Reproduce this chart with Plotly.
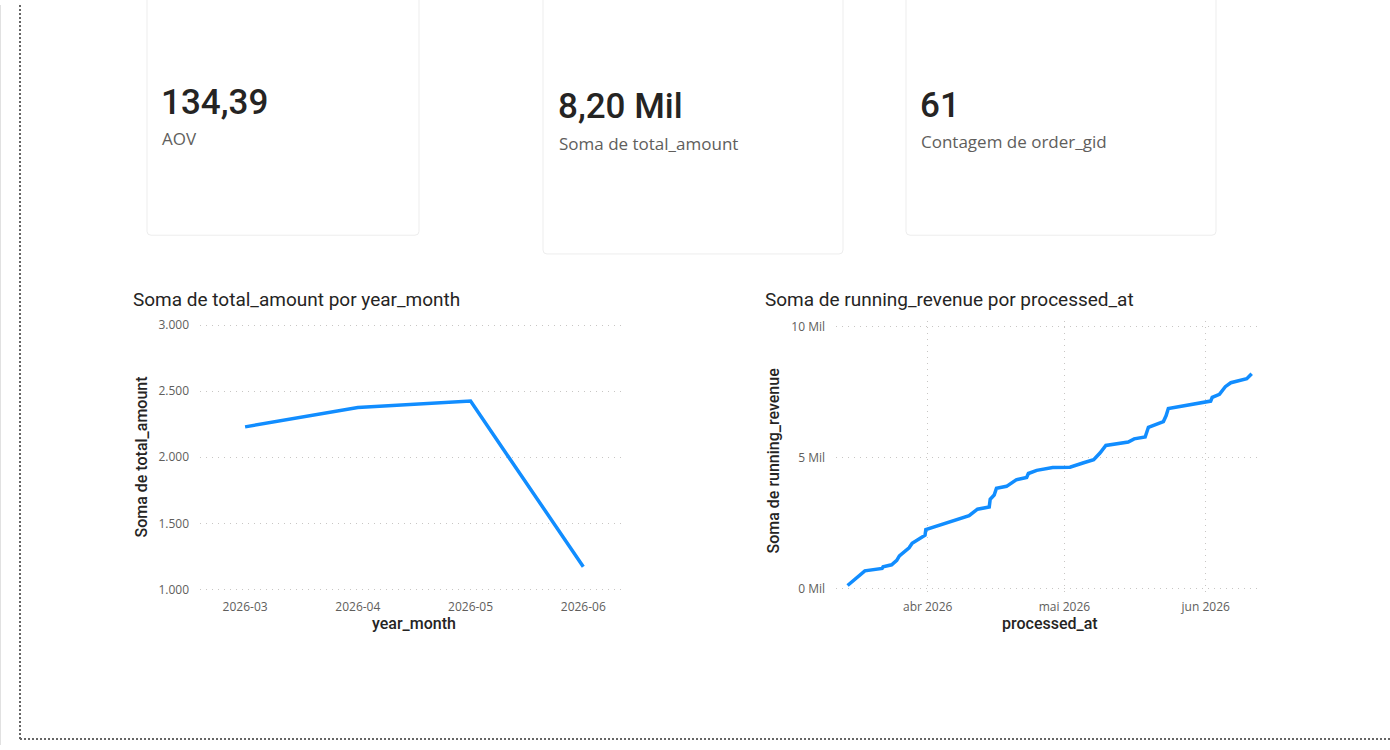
import plotly.graph_objects as go

W, H = 1390, 750

# ---------------- data ----------------
months = ["2026-03", "2026-04", "2026-05", "2026-06"]
total_amount = [2230, 2377, 2425, 1172]

processed_at = [
    "2026-03-14 10:00", "2026-03-16 10:00", "2026-03-18 05:00", "2026-03-22 00:00",
    "2026-03-22 05:00", "2026-03-24 02:00", "2026-03-25 05:00", "2026-03-25 19:00",
    "2026-03-26 17:00", "2026-03-27 22:00", "2026-03-28 14:00", "2026-03-29 14:00",
    "2026-03-31 10:00", "2026-03-31 14:00", "2026-04-02 05:00", "2026-04-07 10:00",
    "2026-04-10 02:00", "2026-04-11 22:00", "2026-04-14 12:00", "2026-04-14 17:00",
    "2026-04-15 14:00", "2026-04-16 02:00", "2026-04-18 07:00", "2026-04-20 10:00",
    "2026-04-22 17:00", "2026-04-23 02:00", "2026-04-24 22:00", "2026-04-28 10:00",
    "2026-05-02 05:00", "2026-05-05 05:00", "2026-05-07 10:00", "2026-05-08 19:00",
    "2026-05-10 02:00", "2026-05-15 00:00", "2026-05-16 07:00", "2026-05-18 17:00",
    "2026-05-19 10:00", "2026-05-22 17:00", "2026-05-23 07:00", "2026-05-23 19:00",
    "2026-05-28 14:00", "2026-06-01 05:00", "2026-06-02 02:00", "2026-06-02 10:00",
    "2026-06-04 00:00", "2026-06-05 07:00", "2026-06-06 12:00", "2026-06-10 00:00",
    "2026-06-11 02:00",
]
running_revenue = [
    130, 440, 690, 780,
    840, 920, 1090, 1260,
    1400, 1570, 1740, 1860,
    2050, 2260, 2350, 2630,
    2790, 3040, 3120, 3420,
    3580, 3840, 3910, 4160,
    4250, 4400, 4520, 4630,
    4640, 4810, 4930, 5180,
    5470, 5600, 5720, 5790,
    6160, 6380, 6600, 6880,
    7010, 7110, 7160, 7300,
    7420, 7710, 7860, 8010,
    8200,
]

left_ytick_vals = [1000, 1500, 2000, 2500, 3000]
left_ytick_text = ["1.000", "1.500", "2.000", "2.500", "3.000"]
right_ytick_vals = [0, 5000, 10000]
right_ytick_text = ["0 Mil", "5 Mil", "10 Mil"]
right_xtick_vals = ["2026-04-01", "2026-05-01", "2026-06-01"]
right_xtick_text = ["abr 2026", "mai 2026", "jun 2026"]

card_values = ["134,39", "8,20 Mil", "61"]
card_labels = ["AOV", "Soma de total_amount", "Contagem de order_gid"]

# ---------------- helpers ----------------
def px(x):
    return x / W

def py(y):
    return 1 - y / H

LINE = "#118DFF"
GRID = "#c8c6c4"
TXT = "#252423"
SUB = "#605e5c"
TITLE_FONT = "Roboto, 'Noto Sans', sans-serif"
UI_FONT = "'Segoe UI', 'Open Sans', 'Noto Sans', sans-serif"

fig = go.Figure()

fig.add_trace(go.Scatter(
    x=months, y=total_amount, mode="lines",
    line=dict(color=LINE, width=3.5), xaxis="x", yaxis="y",
    hoverinfo="skip"))
fig.add_trace(go.Scatter(
    x=processed_at, y=running_revenue, mode="lines",
    line=dict(color=LINE, width=3.5), xaxis="x2", yaxis="y2",
    hoverinfo="skip"))

# plot area pixel boxes
L_X0, L_X1 = 200, 625
R_X0, R_X1 = 836, 1262
P_Y0, P_Y1 = 320, 596

# left y range so that 3000 -> 324, 1000 -> 591.5
ppu_l = (591.5 - 324) / 2000
l_top = 3000 + (324 - P_Y0) / ppu_l
l_bot = 1000 - (P_Y1 - 591.5) / ppu_l
# right y range so that 10000 -> 325.5, 0 -> 591
ppu_r = (591 - 325.5) / 10000
r_top = 10000 + (325.5 - P_Y0) / ppu_r
r_bot = 0 - (P_Y1 - 591) / ppu_r

tickfont = dict(family=UI_FONT, size=12, color=SUB)

fig.update_layout(
    width=W, height=H, autosize=False,
    margin=dict(l=0, r=0, t=0, b=0),
    paper_bgcolor="white", plot_bgcolor="white",
    showlegend=False,
    xaxis=dict(domain=[px(L_X0), px(L_X1)], type="category",
               range=[-0.4, 3.37], showgrid=False, zeroline=False,
               showline=False, ticks="", tickfont=tickfont,
               ticklabelstandoff=4, anchor="y"),
    yaxis=dict(domain=[py(P_Y1), py(P_Y0)], range=[l_bot, l_top],
               tickvals=left_ytick_vals, ticktext=left_ytick_text,
               showgrid=True, gridcolor=GRID, griddash="1px,5px", gridwidth=1,
               zeroline=False, showline=False, ticks="", tickfont=tickfont,
               ticklabelstandoff=10, anchor="x"),
    xaxis2=dict(domain=[px(R_X0), px(R_X1)], type="date",
                range=["2026-03-11 21:07", "2026-06-13 08:10"],
                tickvals=right_xtick_vals, ticktext=right_xtick_text,
                showgrid=True, gridcolor=GRID, griddash="1px,5px", gridwidth=1,
                zeroline=False, showline=False, ticks="", tickfont=tickfont,
                ticklabelstandoff=4, anchor="y2"),
    yaxis2=dict(domain=[py(P_Y1), py(P_Y0)], range=[r_bot, r_top],
                tickvals=right_ytick_vals, ticktext=right_ytick_text,
                showgrid=True, gridcolor=GRID, griddash="1px,5px", gridwidth=1,
                zeroline=False, showline=False, ticks="", tickfont=tickfont,
                ticklabelstandoff=10, anchor="x2"),
)

shapes = []

def rounded_rect(x0, y0, x1, y1, r, color):
    # pixel coords -> paper
    path = (
        f"M {px(x0 + r)} {py(y0)} L {px(x1 - r)} {py(y0)} "
        f"Q {px(x1)} {py(y0)} {px(x1)} {py(y0 + r)} "
        f"L {px(x1)} {py(y1 - r)} "
        f"Q {px(x1)} {py(y1)} {px(x1 - r)} {py(y1)} "
        f"L {px(x0 + r)} {py(y1)} "
        f"Q {px(x0)} {py(y1)} {px(x0)} {py(y1 - r)} "
        f"L {px(x0)} {py(y0 + r)} "
        f"Q {px(x0)} {py(y0)} {px(x0 + r)} {py(y0)} Z"
    )
    return dict(type="path", xref="paper", yref="paper", path=path,
                line=dict(color=color, width=1), fillcolor="white", layer="below")

cards = [(147, -20, 419, 233), (543, -20, 843, 252), (906, -20, 1216, 233)]
for (x0, y0, x1, y1) in cards:
    shapes.append(rounded_rect(x0, y0, x1, y1, 4, "#ededed"))

# page frame
shapes.append(dict(type="line", xref="paper", yref="paper",
                   x0=px(0.5), x1=px(0.5), y0=py(0), y1=py(749),
                   line=dict(color="#e1e1e1", width=1)))
shapes.append(dict(type="line", xref="paper", yref="paper",
                   x0=px(20), x1=px(20), y0=py(0), y1=py(743),
                   line=dict(color="#666666", width=2, dash="2px,2px")))
shapes.append(dict(type="line", xref="paper", yref="paper",
                   x0=px(20), x1=px(1390), y0=py(743), y1=py(743),
                   line=dict(color="#666666", width=2, dash="2px,2px")))
fig.update_layout(shapes=shapes)

ann = []

def text(x, y, s, size, color, family, xanchor="left", angle=0, weight="normal"):
    ann.append(dict(xref="paper", yref="paper", x=px(x), y=py(y), text=s,
                    showarrow=False, xanchor=xanchor, yanchor="middle",
                    textangle=angle,
                    font=dict(size=size, color=color, family=family, weight=weight)))

card_pos = [(161, 99, 135), (558, 103, 140), (920, 102, 138)]
for (x, yv, yl), v, lab in zip(card_pos, card_values, card_labels):
    text(x - 2, yv, v, 35, TXT, TITLE_FONT, weight=500)
    text(x - 1, yl, lab, 17, SUB, UI_FONT)

text(131, 298, "Soma de total_amount por year_month", 19, TXT, TITLE_FONT)
text(763, 298, "Soma de running_revenue por processed_at", 19, TXT, TITLE_FONT)
text(142, 458, "Soma de total_amount", 16, TXT, TITLE_FONT, xanchor="center", angle=-90, weight=500)
text(773, 461, "Soma de running_revenue", 16, TXT, TITLE_FONT, xanchor="center", angle=-90, weight=500)
text(414, 626, "year_month", 16, TXT, TITLE_FONT, xanchor="center", weight=500)
text(1050, 626, "processed_at", 16, TXT, TITLE_FONT, xanchor="center", weight=500)

fig.update_layout(annotations=ann)

fig.write_html("out.html")
